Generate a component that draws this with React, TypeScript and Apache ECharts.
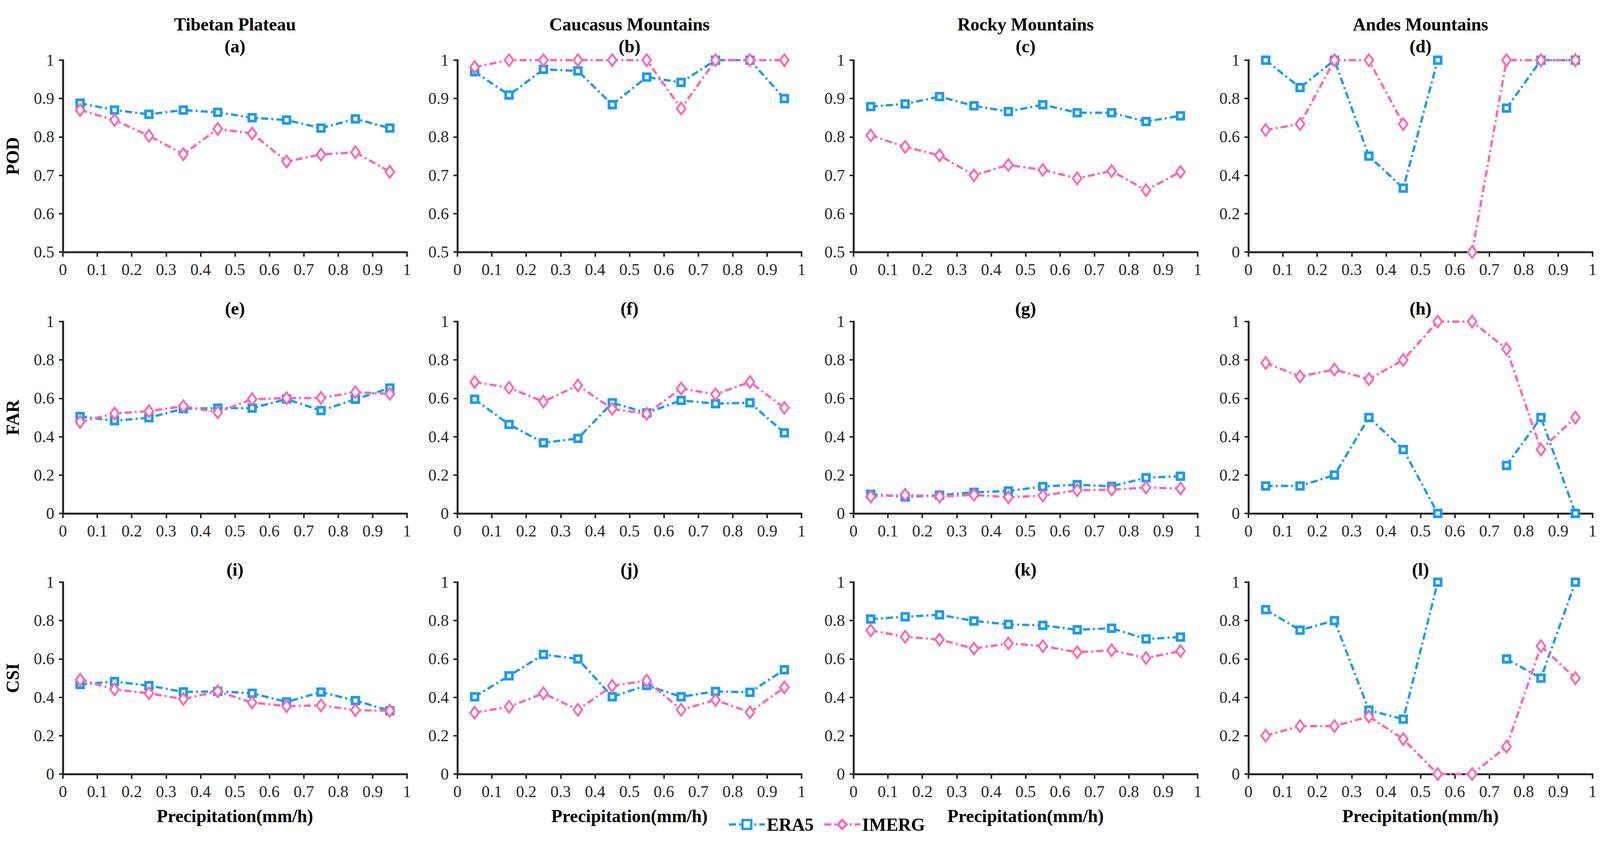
import React, { useEffect, useRef } from "react";
import * as echarts from "echarts";

// ---------- DATA ----------
const xValues = [0.05, 0.15, 0.25, 0.35, 0.45, 0.55, 0.65, 0.75, 0.85, 0.95];
const regions = ["Tibetan Plateau", "Caucasus Mountains", "Rocky Mountains", "Andes Mountains"];
const metrics = ["POD", "FAR", "CSI"];
const panelLetters = ["(a)", "(b)", "(c)", "(d)", "(e)", "(f)", "(g)", "(h)", "(i)", "(j)", "(k)", "(l)"];
const xTickLabels = ["0", "0.1", "0.2", "0.3", "0.4", "0.5", "0.6", "0.7", "0.8", "0.9", "1"];

// POD
const era5POD_TP = [0.888, 0.870, 0.859, 0.870, 0.864, 0.850, 0.844, 0.823, 0.847, 0.823];
const imergPOD_TP = [0.870, 0.844, 0.803, 0.755, 0.821, 0.809, 0.736, 0.754, 0.760, 0.709];
const era5POD_CM = [0.970, 0.909, 0.976, 0.972, 0.884, 0.956, 0.942, 1.0, 1.0, 0.9];
const imergPOD_CM = [0.982, 1.0, 1.0, 1.0, 1.0, 1.0, 0.874, 1.0, 1.0, 1.0];
const era5POD_RM = [0.879, 0.886, 0.905, 0.881, 0.866, 0.884, 0.863, 0.863, 0.840, 0.855];
const imergPOD_RM = [0.804, 0.774, 0.752, 0.700, 0.727, 0.714, 0.692, 0.711, 0.661, 0.709];
const era5POD_AM = [1.0, 0.857, 1.0, 0.5, 0.333, 1.0, null, 0.75, 1.0, 1.0];
const imergPOD_AM = [0.636, 0.667, 1.0, 1.0, 0.667, null, 0.0, 1.0, 1.0, 1.0];

// FAR
const era5FAR_TP = [0.505, 0.483, 0.499, 0.546, 0.549, 0.549, 0.596, 0.536, 0.595, 0.654];
const imergFAR_TP = [0.477, 0.521, 0.533, 0.559, 0.527, 0.596, 0.601, 0.602, 0.632, 0.623];
const era5FAR_CM = [0.595, 0.464, 0.368, 0.391, 0.577, 0.524, 0.589, 0.572, 0.577, 0.420];
const imergFAR_CM = [0.685, 0.655, 0.583, 0.667, 0.545, 0.519, 0.651, 0.621, 0.685, 0.550];
const era5FAR_RM = [0.100, 0.086, 0.095, 0.110, 0.117, 0.140, 0.150, 0.141, 0.186, 0.194];
const imergFAR_RM = [0.088, 0.097, 0.088, 0.097, 0.084, 0.093, 0.121, 0.124, 0.135, 0.130];
const era5FAR_AM = [0.143, 0.143, 0.2, 0.5, 0.333, 0.0, null, 0.25, 0.5, 0.0];
const imergFAR_AM = [0.784, 0.714, 0.75, 0.70, 0.8, 1.0, 1.0, 0.857, 0.333, 0.5];

// CSI
const era5CSI_TP = [0.467, 0.482, 0.461, 0.428, 0.431, 0.421, 0.376, 0.427, 0.383, 0.330];
const imergCSI_TP = [0.492, 0.441, 0.421, 0.391, 0.431, 0.373, 0.354, 0.358, 0.333, 0.330];
const era5CSI_CM = [0.403, 0.512, 0.623, 0.600, 0.403, 0.462, 0.403, 0.431, 0.426, 0.544];
const imergCSI_CM = [0.320, 0.351, 0.421, 0.335, 0.460, 0.487, 0.335, 0.386, 0.322, 0.452];
const era5CSI_RM = [0.808, 0.820, 0.830, 0.798, 0.780, 0.775, 0.752, 0.760, 0.704, 0.714];
const imergCSI_RM = [0.749, 0.716, 0.701, 0.654, 0.681, 0.667, 0.635, 0.645, 0.605, 0.641];
const era5CSI_AM = [0.857, 0.75, 0.8, 0.333, 0.286, 1.0, null, 0.6, 0.5, 1.0];
const imergCSI_AM = [0.2, 0.25, 0.25, 0.3, 0.182, 0.0, 0.0, 0.143, 0.667, 0.5];

const era5Panels = [
  era5POD_TP, era5POD_CM, era5POD_RM, era5POD_AM,
  era5FAR_TP, era5FAR_CM, era5FAR_RM, era5FAR_AM,
  era5CSI_TP, era5CSI_CM, era5CSI_RM, era5CSI_AM,
];
const imergPanels = [
  imergPOD_TP, imergPOD_CM, imergPOD_RM, imergPOD_AM,
  imergFAR_TP, imergFAR_CM, imergFAR_RM, imergFAR_AM,
  imergCSI_TP, imergCSI_CM, imergCSI_RM, imergCSI_AM,
];
// y-axis ranges per panel: [min, max, interval]
const yRanges = [
  [0.5, 1, 0.1], [0.5, 1, 0.1], [0.5, 1, 0.1], [0, 1, 0.2],
  [0, 1, 0.2], [0, 1, 0.2], [0, 1, 0.2], [0, 1, 0.2],
  [0, 1, 0.2], [0, 1, 0.2], [0, 1, 0.2], [0, 1, 0.2],
];

// ---------- STYLE / LAYOUT ----------
const BLUE = "#1C9BEF";
const PINK = "#FF66B2";
const AXIS = "#262626";
const FONT = "'Liberation Serif', 'Times New Roman', serif";
const GRID_LEFT = [161, 1171, 2185, 3196];
const GRID_TOP = [154, 823, 1490];
const GRID_W = 881;
const GRID_H = 491;
const LABEL_Y = [118, 789, 1457];
const REGION_Y = 62;
const DASH = [18, 8, 5, 8];

function buildOption() {
  const grids: any[] = [];
  const xAxes: any[] = [];
  const yAxes: any[] = [];
  const series: any[] = [];
  const graphics: any[] = [];

  for (let r = 0; r < 3; r++) {
    for (let c = 0; c < 4; c++) {
      const i = r * 4 + c;
      grids.push({ left: GRID_LEFT[c], top: GRID_TOP[r], width: GRID_W, height: GRID_H, containLabel: false });
      xAxes.push({
        type: "value",
        gridIndex: i,
        min: 0,
        max: 1,
        interval: 0.1,
        name: r === 2 ? "Precipitation(mm/h)" : "",
        nameLocation: "middle",
        nameGap: 84,
        nameTextStyle: { fontFamily: FONT, fontWeight: "bold", fontSize: 46, color: "#000" },
        axisLine: { show: true, onZero: false, lineStyle: { color: AXIS, width: 5 } },
        axisTick: { show: true, inside: false, length: 12, lineStyle: { color: AXIS, width: 4 } },
        axisLabel: {
          margin: 24,
          fontFamily: FONT,
          fontSize: 42,
          color: AXIS,
          formatter: (v: number) => xTickLabels[Math.round(v * 10)] ?? "",
        },
        splitLine: { show: false },
      });
      const [ymin, ymax, yint] = yRanges[i];
      yAxes.push({
        type: "value",
        gridIndex: i,
        min: ymin,
        max: ymax,
        interval: yint,
        name: c === 0 ? metrics[r] : "",
        nameLocation: "middle",
        nameRotate: 90,
        nameGap: 106,
        nameTextStyle: { fontFamily: FONT, fontWeight: "bold", fontSize: 46, color: "#000" },
        axisLine: { show: true, onZero: false, lineStyle: { color: AXIS, width: 5 } },
        axisTick: { show: true, inside: false, length: 10, lineStyle: { color: AXIS, width: 4 } },
        axisLabel: {
          margin: 22,
          fontFamily: FONT,
          fontSize: 42,
          color: AXIS,
          formatter: (v: number) => String(Math.round(v * 10) / 10),
        },
        splitLine: { show: false },
      });
      series.push({
        type: "line",
        name: "ERA5",
        xAxisIndex: i,
        yAxisIndex: i,
        data: xValues.map((x, k) => [x, era5Panels[i][k]]),
        connectNulls: false,
        symbol: "rect",
        symbolSize: 17,
        lineStyle: { color: BLUE, width: 6, type: DASH },
        itemStyle: { color: "#ffffff", borderColor: BLUE, borderWidth: 7 },
        z: 2,
      });
      series.push({
        type: "line",
        name: "IMERG",
        xAxisIndex: i,
        yAxisIndex: i,
        data: xValues.map((x, k) => [x, imergPanels[i][k]]),
        connectNulls: false,
        symbol: "diamond",
        symbolSize: [22, 30],
        lineStyle: { color: PINK, width: 6, type: DASH },
        itemStyle: { color: "#ffffff", borderColor: PINK, borderWidth: 5 },
        z: 3,
      });
      const cx = GRID_LEFT[c] + GRID_W / 2;
      if (r === 0) {
        graphics.push({
          type: "text",
          x: cx,
          y: REGION_Y,
          style: { text: regions[c], font: `bold 46px ${FONT}`, fill: "#000", align: "center", verticalAlign: "middle" },
        });
      }
      graphics.push({
        type: "text",
        x: cx,
        y: LABEL_Y[r],
        style: { text: panelLetters[i], font: `bold 46px ${FONT}`, fill: "#000", align: "center", verticalAlign: "middle" },
      });
    }
  }

  return {
    animation: false,
    backgroundColor: "#ffffff",
    grid: grids,
    xAxis: xAxes,
    yAxis: yAxes,
    series,
    graphic: graphics,
    legend: {
      data: ["ERA5", "IMERG"],
      left: 1858,
      top: 2082,
      orient: "horizontal",
      itemWidth: 92,
      itemHeight: 28,
      itemGap: 24,
      lineStyle: { width: 6 },
      itemStyle: { borderWidth: 6 },
      textStyle: { fontFamily: FONT, fontWeight: "bold", fontSize: 46, color: "#000" },
    },
  };
}

export default function App() {
  const ref = useRef<HTMLDivElement>(null);
  useEffect(() => {
    document.body.style.margin = "0";
    const chart = echarts.init(ref.current!, null, { renderer: "svg" });
    chart.setOption(buildOption() as any);
    return () => chart.dispose();
  }, []);
  return <div ref={ref} style={{ width: 4120, height: 2160 }} />;
}
